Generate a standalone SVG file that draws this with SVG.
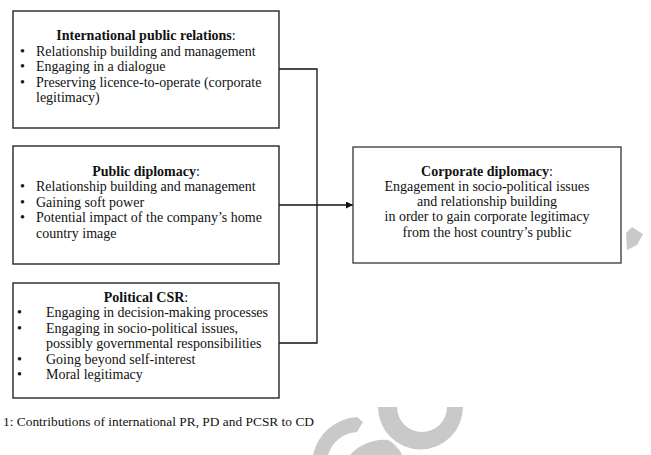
<svg xmlns="http://www.w3.org/2000/svg" width="651" height="455" viewBox="0 0 651 455">
<defs>
<style>
.box{fill:#fff;stroke:#262626;stroke-width:1.4}
.t{font-family:"Liberation Serif","Times New Roman",serif;font-size:14px;fill:#111}
.b{font-weight:bold}
.c{text-anchor:middle}
.ln{fill:none;stroke:#111;stroke-width:1.3}
.wm{fill:#c9c9c9;stroke:none}
</style>
<marker id="ah" viewBox="0 0 10 10" refX="10" refY="5" markerWidth="7" markerHeight="7" markerUnits="userSpaceOnUse" orient="auto">
<path d="M0,0 L10,5 L0,10 z" fill="#111"/>
</marker>
</defs>
<rect width="651" height="455" fill="#fff"/>
<g id="watermark">
<path class="wm" d="M378,407 A42,42 0 0 0 463,407 L447,407 A25,25 0 0 1 397,407 Z"/>
<path class="wm" d="M313,455 A48,48 0 0 1 357,417 L363,422 L357,432 A32,32 0 0 0 328,455 Z"/>
<path class="wm" d="M350,455 C358,445 375,438 388,440 C395,444 400,450 402,455 Z"/>
<path class="wm" d="M626,233 L632,227 L643,234 L637,245 L627,250 Z"/>
</g>
<g id="connectors">
<polyline class="ln" points="279,69 317,69 317,343 279,343"/>
<line class="ln" x1="279" y1="205" x2="353" y2="205" marker-end="url(#ah)"/>
</g>
<g id="ipr">
<rect class="box" x="13" y="11" width="266" height="117"/>
<text class="t c" x="146" y="40"><tspan class="b">International public relations</tspan>:</text>
<text class="t" x="20" y="55.6">•</text><text class="t" x="36" y="55.6">Relationship building and management</text>
<text class="t" x="20" y="71.2">•</text><text class="t" x="36" y="71.2">Engaging in a dialogue</text>
<text class="t" x="20" y="86.8">•</text><text class="t" x="36" y="86.8">Preserving licence-to-operate (corporate</text>
<text class="t" x="36" y="102.4">legitimacy)</text>
</g>
<g id="pd">
<rect class="box" x="13" y="146" width="266" height="118"/>
<text class="t c" x="146" y="175.7"><tspan class="b">Public diplomacy</tspan>:</text>
<text class="t" x="20" y="191.3">•</text><text class="t" x="36" y="191.3">Relationship building and management</text>
<text class="t" x="20" y="206.8">•</text><text class="t" x="36" y="206.8">Gaining soft power</text>
<text class="t" x="20" y="222.3">•</text><text class="t" x="36" y="222.3">Potential impact of the company’s home</text>
<text class="t" x="36" y="237.8">country image</text>
</g>
<g id="pcsr">
<rect class="box" x="13" y="283" width="266" height="115"/>
<text class="t c" x="146" y="301.7"><tspan class="b">Political CSR</tspan>:</text>
<text class="t" x="17" y="317.3">•</text><text class="t" x="46" y="317.3">Engaging in decision-making processes</text>
<text class="t" x="17" y="332.8">•</text><text class="t" x="46" y="332.8">Engaging in socio-political issues,</text>
<text class="t" x="46" y="348.3">possibly governmental responsibilities</text>
<text class="t" x="17" y="363.8">•</text><text class="t" x="46" y="363.8">Going beyond self-interest</text>
<text class="t" x="17" y="379.3">•</text><text class="t" x="46" y="379.3">Moral legitimacy</text>
</g>
<g id="cd">
<rect class="box" x="353" y="147" width="268" height="116" style="stroke:#444"/>
<text class="t c" x="487" y="175.7"><tspan class="b">Corporate diplomacy</tspan>:</text>
<text class="t c" x="487" y="190.9">Engagement in socio-political issues</text>
<text class="t c" x="487" y="206.1">and relationship building</text>
<text class="t c" x="487" y="221.3">in order to gain corporate legitimacy</text>
<text class="t c" x="487" y="236.5">from the host country’s public</text>
</g>
<text id="caption" class="t" x="3" y="426" style="font-size:13.4px">1: Contributions of international PR, PD and PCSR to CD</text>
</svg>
